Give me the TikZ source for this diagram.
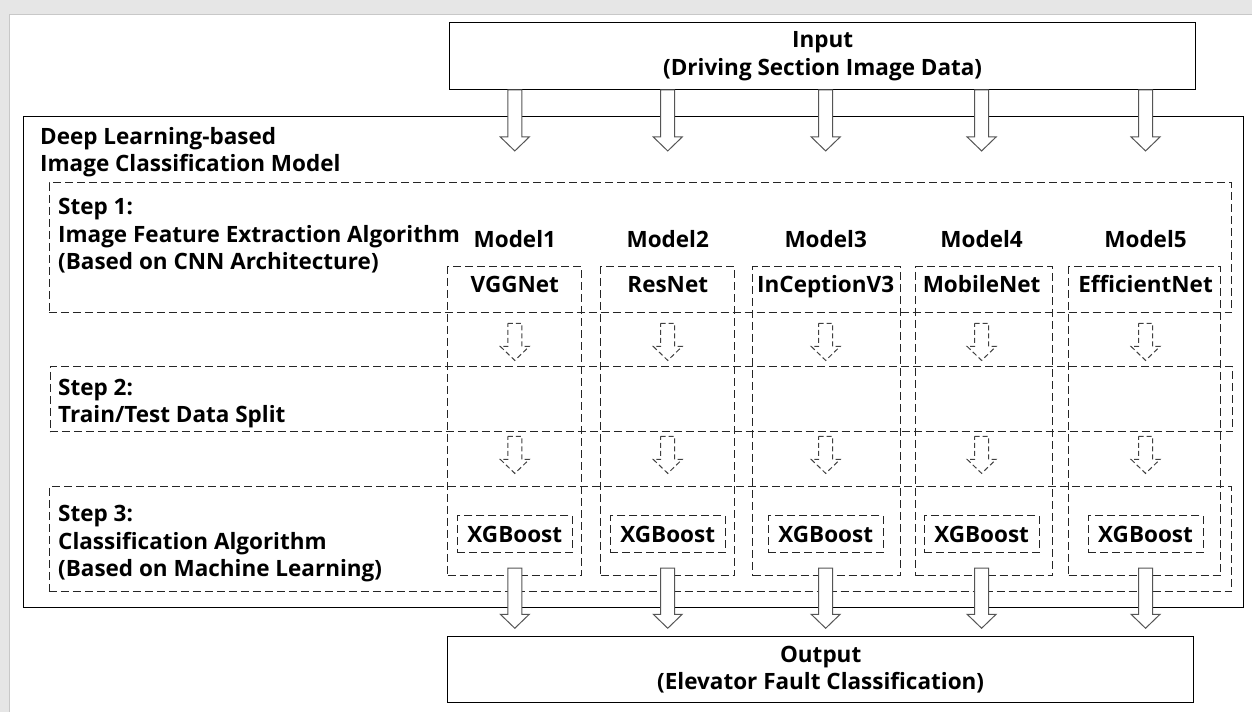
\documentclass[tikz,border=0pt]{standalone}
\usepackage{fontspec}
\setmainfont{Open Sans}
\usetikzlibrary{calc}

\definecolor{framegray}{HTML}{E6E6E6}
\definecolor{edgegray}{HTML}{C8C8C8}
\definecolor{arrowgray}{HTML}{555555}

\tikzset{
    solidbox/.style={draw=black, line width=1pt, rectangle, inner sep=0pt},
    dashbox/.style={draw=black!85, line width=0.9pt, dash pattern=on 8pt off 4pt, rectangle, inner sep=0pt},
    txt/.style={font=\bfseries\fontsize{22.5}{27.5}\selectfont, inner sep=0pt},
    fatline/.style={fill=white, draw=arrowgray, line width=1pt, line join=miter},
    dashfat/.style={fatline, draw=black!75, dash pattern=on 5pt off 3pt}
}

% hollow block arrow from #2 down to its tip #3
\newcommand\fatarrow[3][fatline]{%
    \filldraw[#1] let \p1=(#2), \p2=(#3) in
        (\x1-7pt,\y1) -- (\x1+7pt,\y1) -- (\x1+7pt,\y2+14pt) -- (\x1+14.5pt,\y2+14pt)
        -- (\x2,\y2) -- (\x1-14.5pt,\y2+14pt) -- (\x1-7pt,\y2+14pt) -- cycle;}

\begin{document}
\begin{tikzpicture}[x=1pt,y=-1pt]
    % window frame
    \fill[framegray] (0,0) rectangle (1252,712);
    \fill[white] (10,15) rectangle (1252,712);
    \draw[edgegray, line width=1pt] (10,712) -- (10,15) -- (1252,15);

    \node[solidbox, minimum width=746pt, minimum height=67pt, txt, align=center] (in) at (823,56)
        {Input\\(Driving Section Image Data)};
    \node[solidbox, minimum width=746pt, minimum height=66pt, txt, align=center] (out) at (821,670)
        {Output\\(Elevator Fault Classification)};

    \node[solidbox, minimum width=1220pt, minimum height=491pt] (dl) at (634,362.5) {};
    % multi-line labels sit on the baseline of their last line
    \node[txt, align=left, anchor=base west] (dltext) at (40,172)
        {Deep Learning-based\\Image Classification Model};

    \node[dashbox, minimum width=1183pt, minimum height=130pt] (step1) at (640.5,248) {};
    \node[dashbox, minimum width=1183pt, minimum height=65pt] (step2) at (641.5,399.5) {};
    \node[dashbox, minimum width=1183pt, minimum height=105pt] (step3) at (640.5,539.5) {};

    \node[txt, align=left, anchor=base west] (s1text) at (58,270)
        {Step 1:\\Image Feature Extraction Algorithm\\(Based on CNN Architecture)};
    \node[txt, align=left, anchor=base west] (s2text) at (58,423)
        {Step 2:\\Train/Test Data Split};
    \node[txt, align=left, anchor=base west] (s3text) at (58,577)
        {Step 3:\\Classification Algorithm\\(Based on Machine Learning)};

    \foreach \x/\l/\r/\net [count=\i] in {515/448/582/VGGNet, 668/601/735/ResNet,
            826/753/901/InCeptionV3, 982/916/1053/MobileNet, 1146/1069/1221/EfficientNet}{
        \node[dashbox, minimum width={(\r-\l)*1pt}, minimum height=309pt] (col\i) at ({(\l+\r)/2},421.5) {};
        \node[txt, anchor=base] (model\i) at (\x,248) {Model\i};
        \node[txt, anchor=base] (net\i) at (\x,293) {\net};
        \node[dashbox, minimum width=115pt, minimum height=37pt, txt] (xgb\i) at (\x,534.5) {XGBoost};

        \coordinate (intip\i) at (\x,151);
        \fatarrow{in.south -| intip\i}{intip\i}
        \fatarrow[dashfat]{$(step1.south -| intip\i)+(0,10)$}{$(step2.north -| intip\i)+(0,-6)$}
        \fatarrow[dashfat]{$(step2.south -| intip\i)+(0,4)$}{$(step3.north -| intip\i)+(0,-13)$}
        \fatarrow{$(xgb\i.south)+(0,15)$}{$(out.north -| xgb\i)+(0,-8)$}
    }
\end{tikzpicture}
\end{document}
